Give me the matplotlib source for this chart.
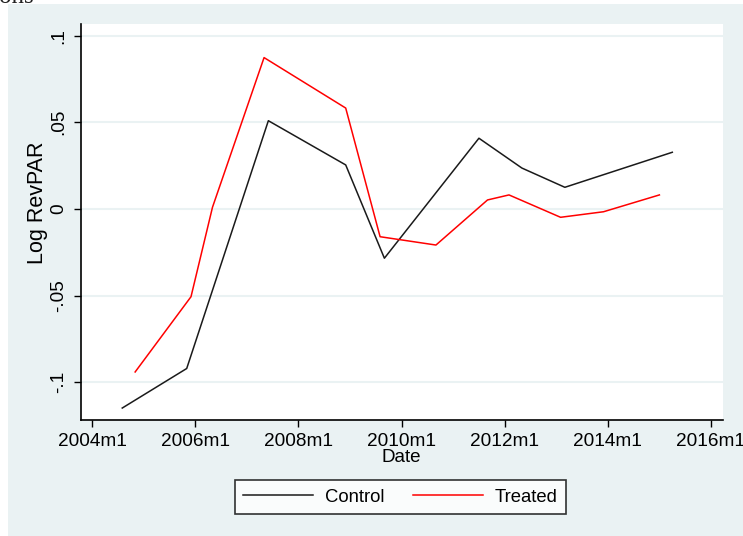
import matplotlib
matplotlib.use("Agg")
import matplotlib.pyplot as plt
from matplotlib.patches import Rectangle

# ---- data ----
control_dates = ['2004m8', '2005m11', '2007m6', '2008m12', '2009m9',
                 '2011m7', '2012m5', '2013m3', '2015m4']
control_vals = [-0.1148, -0.0920, 0.0509, 0.0254, -0.0284,
                0.0408, 0.0236, 0.0125, 0.0327]

treated_dates = ['2004m11', '2005m12', '2006m5', '2007m5', '2008m12', '2009m8',
                 '2010m9', '2011m9', '2012m2', '2013m2', '2013m12', '2015m1']
treated_vals = [-0.0940, -0.0506, 0.0010, 0.0873, 0.0582, -0.0160,
                -0.0208, 0.0052, 0.0081, -0.0048, -0.0016, 0.0081]

xtick_labels = ['2004m1', '2006m1', '2008m1', '2010m1', '2012m1', '2014m1', '2016m1']
ytick_vals = [-0.1, -0.05, 0, 0.05, 0.1]
ytick_labels = ['-.1', '-.05', '0', '.05', '.1']
series_names = ['Control', 'Treated']


def month_index(s):
    y, m = s.split('m')
    return (int(y) - 2004) * 12 + (int(m) - 1)


W, H = 743, 536
plt.rcParams['font.family'] = ['Liberation Sans', 'DejaVu Sans']
fig = plt.figure(figsize=(W / 100, H / 100), dpi=100, facecolor='white')

bg = '#EAF2F3'
fig.patches.append(Rectangle((8 / W, 0), 1 - 8 / W, 1 - 4 / H,
                             transform=fig.transFigure, facecolor=bg,
                             edgecolor='none', zorder=-10))
fig.text(-0.001, 1.0 - 3 / H, 'ons', family='Liberation Serif', fontsize=18,
         va='baseline', ha='left', color='#222222')

L, R, T, B = 81, 723, 24.3, 420
ax = fig.add_axes([L / W, 1 - B / H, (R - L) / W, (B - T) / H])
ax.set_zorder(2)
ax.set_facecolor('white')

cx = [month_index(d) for d in control_dates]
tx = [month_index(d) for d in treated_dates]
ax.plot(cx, control_vals, color='#1a1a1a', lw=1.1, label=series_names[0], zorder=3)
ax.plot(tx, treated_vals, color='#ff0000', lw=1.1, label=series_names[1], zorder=3)

ax.set_xlim(-2.6, 146.8)
ax.set_ylim(-0.1217, 0.1065)

ax.set_xticks([month_index(s) for s in xtick_labels])
ax.set_xticklabels(xtick_labels, fontsize=13.7)
ax.set_yticks(ytick_vals)
ax.set_yticklabels(ytick_labels, fontsize=13.7, rotation=90, va='center')

for s in ['top', 'right']:
    ax.spines[s].set_visible(False)
for s in ['left', 'bottom']:
    ax.spines[s].set_linewidth(1.2)
    ax.spines[s].set_color('black')

ax.tick_params(axis='both', direction='out', length=5, width=1.0, color='black')
ax.tick_params(axis='x', pad=4)
ax.tick_params(axis='y', pad=5)

ax.yaxis.grid(True, color=bg, lw=1.5)
ax.set_axisbelow(True)

fig.text(401 / W, 1 - 457 / H, 'Date', fontsize=13.5, ha='center', va='center')
fig.text(37 / W, 1 - 203 / H, 'Log RevPAR', fontsize=15.5, ha='center',
         va='center', rotation=90)

leg = fig.legend(loc='center', bbox_to_anchor=(400.5 / W, 1 - 497 / H),
                 ncol=2, fontsize=13.3, frameon=True, fancybox=False,
                 handlelength=3.8, handletextpad=0.65, columnspacing=1.5,
                 borderpad=0.45)
leg.get_frame().set_edgecolor('black')
leg.get_frame().set_linewidth(1.2)
leg.get_frame().set_facecolor('white')

fig.savefig('out.png', dpi=100, facecolor=fig.get_facecolor())
